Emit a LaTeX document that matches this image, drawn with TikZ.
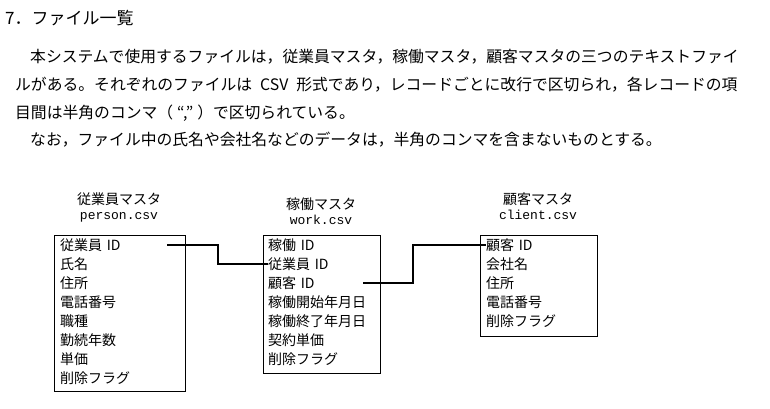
\documentclass[tikz,border=0pt]{standalone}
\usepackage{fontspec}
\setmainfont{Noto Sans CJK JP}
\setmonofont{Liberation Mono}
\usetikzlibrary{positioning}

\begin{document}
\begin{tikzpicture}[
		x=1pt,y=-1pt,
		t/.style={anchor=west,inner sep=0pt,font=\fontsize{17}{17}\selectfont},
		p/.style={anchor=west,inner sep=0pt,font=\fontsize{15.8}{16}\selectfont},
		h/.style={inner sep=0pt,text height=11pt,text depth=2pt,font=\fontsize{14}{14}\selectfont},
		f/.style={inner sep=0pt,text height=9pt,text depth=2.5pt,font=\ttfamily\fontsize{13}{13}\selectfont},
		b/.style={rectangle,draw,line width=0.8pt,anchor=north west,inner sep=0pt},
		r/.style={inner sep=0pt,text width=100pt,minimum height=18.6pt,align=left,font=\fontsize{14}{14}\selectfont},
		a/.style={draw,line width=1.5pt}
		]
		
		\useasboundingbox (0,0) rectangle (770,408);
		
		% heading and text
		\node [t] (title) at (5,18) {7．ファイル一覧};
		\node [p] (para1) at (30,57) {本システムで使用するファイルは，従業員マスタ，稼働マスタ，顧客マスタの三つのテキストファイ};
		\node [p] (para2) at (15,85) {ルがある。それぞれのファイルは\hspace{8pt}CSV\hspace{8pt}形式であり，レコードごとに改行で区切られ，各レコードの項};
		\node [p] (para3) at (15,113) {目間は半角のコンマ（\hspace{4pt}“,”\hspace{4pt}）で区切られている。};
		\node [p] (para4) at (30,140) {なお，ファイル中の氏名や会社名などのデータは，半角のコンマを含まないものとする。};
		
		% file headers
		\node [h] (person head) at (119,200) {従業員マスタ};
		\node [f,below=4pt of person head] (person file) {person.csv};
		\node [h] (work head) at (321,205) {稼働マスタ};
		\node [f,below=4pt of work head] (work file) {work.csv};
		\node [h] (client head) at (538,200) {顧客マスタ};
		\node [f,below=4pt of client head] (client file) {client.csv};
		
		% boxes
		\node [b,minimum width=131pt,minimum height=156pt] (person) at (54,235) {};
		\node [b,minimum width=117pt,minimum height=138pt] (work) at (263,235) {};
		\node [b,minimum width=117pt,minimum height=101pt] (client) at (480,235) {};
		
		% person.csv
		\node [r,below right=0.5pt and 6pt of person.north west] (person1) {従業員 ID};
		\node [r,below=0pt of person1] (person2) {氏名};
		\node [r,below=0pt of person2] (person3) {住所};
		\node [r,below=0pt of person3] (person4) {電話番号};
		\node [r,below=0pt of person4] (person5) {職種};
		\node [r,below=0pt of person5] (person6) {勤続年数};
		\node [r,below=0pt of person6] (person7) {単価};
		\node [r,below=0pt of person7] (person8) {削除フラグ};
		
		% work.csv
		\node [r,below right=0.5pt and 5pt of work.north west] (work1) {稼働 ID};
		\node [r,below=0pt of work1] (work2) {従業員 ID};
		\node [r,below=0pt of work2] (work3) {顧客 ID};
		\node [r,below=0pt of work3] (work4) {稼働開始年月日};
		\node [r,below=0pt of work4] (work5) {稼働終了年月日};
		\node [r,below=0pt of work5] (work6) {契約単価};
		\node [r,below=0pt of work6] (work7) {削除フラグ};
		
		% client.csv
		\node [r,below right=0.5pt and 6pt of client.north west] (client1) {顧客 ID};
		\node [r,below=0pt of client1] (client2) {会社名};
		\node [r,below=0pt of client2] (client3) {住所};
		\node [r,below=0pt of client3] (client4) {電話番号};
		\node [r,below=0pt of client4] (client5) {削除フラグ};
		
		\coordinate [right=107pt of person1.west] (person id);
		\coordinate [right=95pt of work3.west] (work client id);
		
		\path [a] (person id) -- ++(51pt,0pt) |- (work2.west);
		\path [a] (work client id) -- ++(50pt,0pt) |- (client1.west);
		
	\end{tikzpicture}
\end{document}
